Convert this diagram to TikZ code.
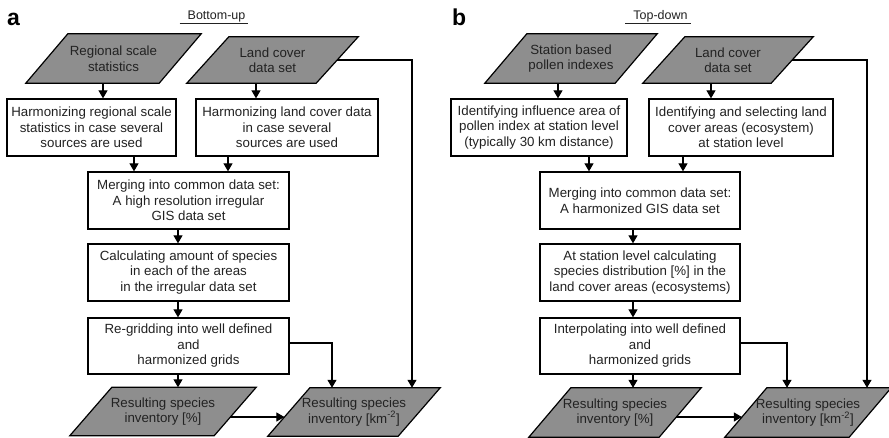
\documentclass[tikz,border=0pt]{standalone}
\usepackage{fontspec}
\setmainfont{Liberation Sans}
\usetikzlibrary{arrows.meta,backgrounds,calc}
\definecolor{pgray}{HTML}{8E8E8E}
\definecolor{txt}{HTML}{222222}
\tikzset{
  boxfont/.style={font=\fontsize{13.3}{15.5}\selectfont},
  box/.style={draw=black, line width=1.3pt, fill=white, align=center, inner sep=2pt, boxfont, text=txt, minimum height=57pt},
  ptext/.style={align=center, inner sep=0pt, boxfont, text=txt},
  pshape/.style={draw=black, line width=1.2pt, fill=pgray},
  arr/.style={line width=1.1pt, draw=black, -{Triangle[length=8pt,width=9pt]}},
  lab/.style={anchor=base west, inner sep=0pt, font=\fontsize{23}{23}\selectfont\bfseries},
  ttl/.style={anchor=base, inner sep=0pt, font=\fontsize{12.5}{14}\selectfont, text=txt},
}
\newcommand\pgram[6]{%
  \node[ptext, minimum width=#4pt, minimum height=#5pt] (#1) at (#2,#3) {#6};
  \begin{scope}[on background layer]
    \draw[pshape] ([xshift=21pt]#1.north west) -- ([xshift=21pt]#1.north east)
      -- ([xshift=-21pt]#1.south east) -- ([xshift=-21pt]#1.south west) -- cycle;
  \end{scope}}
\begin{document}
\begin{tikzpicture}[x=1pt,y=-1pt]
\begin{scope}[on background layer]
  \fill[white] (0,0) rectangle (889,437);
\end{scope}
\useasboundingbox (0,0) rectangle (889,437);

% ---------------- Panel a ----------------
\node[lab] (la) at (7,25) {a};
\node[ttl] (ta) at (214,19.5) {\underline{\hspace{8pt}Bottom-up\hspace{3pt}}};

\pgram{pa1}{113.5}{58.5}{133}{49}{Regional scale\\statistics}
\pgram{pa2}{272.5}{60}{129}{46}{Land cover\\data set}

\node[box, minimum width=169pt] (ba1) at (91.5,127.5) {Harmonizing regional scale\\statistics in case several\\sources are used};
\node[box, minimum width=182pt] (ba2) at (287,127.5) {Harmonizing land cover data\\in case several\\sources are used};
\node[box, minimum width=201pt] (ba3) at (188.5,200.5) {Merging into common data set:\\A high resolution irregular\\GIS data set};
\node[box, minimum width=201pt] (ba4) at (188.5,272.5) {Calculating amount of species\\in each of the areas\\in the irregular data set};
\node[box, minimum width=201pt, minimum height=56pt] (ba5) at (188.5,346) {Re-gridding into well defined\\and\\harmonized grids};

\pgram{pa3}{163}{411.5}{144}{48}{Resulting species\\inventory [\%]}
\pgram{pa4}{354}{412}{130}{48}{Resulting species\\inventory [km\textsuperscript{-2}]}

\path ([xshift=-10.5pt]pa1.south) coordinate (a1)
      ([xshift=-16.5pt]pa2.south) coordinate (a2)
      ([xshift=42.5pt]ba1.south) coordinate (a3)
      ([xshift=-59pt]ba2.south) coordinate (a4)
      ([xshift=-10.5pt]ba3.south) coordinate (a5)
      ([xshift=-10.5pt]ba4.south) coordinate (a6)
      ([xshift=-10.5pt]ba5.south) coordinate (a7);
\draw[arr] (a1) -- (a1 |- ba1.north);
\draw[arr] (a2) -- (a2 |- ba2.north);
\draw[arr] (a3) -- (a3 |- ba3.north);
\draw[arr] (a4) -- (a4 |- ba3.north);
\draw[arr] (a5) -- (a5 |- ba4.north);
\draw[arr] (a6) -- (a6 |- ba5.north);
\draw[arr] (a7) -- (a7 |- pa3.north);
\draw[arr] ([xshift=-4.8pt,yshift=-5.5pt]pa3.east) -- ([xshift=-4.4pt,yshift=-5pt]pa4.west);
\draw[arr] ([yshift=3pt]ba5.east) -| ([xshift=-22pt]pa4.north);
\draw[arr] (pa2.east) -| ([xshift=58pt]pa4.north);

% ---------------- Panel b ----------------
\node[lab] (lb) at (452,25) {b};
\node[ttl] (tb) at (658,19.5) {\underline{\hspace{8pt}Top-down\hspace{3pt}}};

\pgram{pb1}{571}{58.5}{130}{49}{Station based\\pollen indexes}
\pgram{pb2}{728}{60}{128}{46}{Land cover\\data set}

\node[box, minimum width=176pt] (bb1) at (539,127.5) {Identifying influence area of\\pollen index at station level\\(typically 30 km distance)};
\node[box, minimum width=184pt] (bb2) at (741,127.5) {Identifying and selecting land\\cover areas (ecosystem)\\at station level};
\node[box, minimum width=200pt] (bb3) at (640,200.5) {Merging into common data set:\\A harmonized GIS data set};
\node[box, minimum width=200pt] (bb4) at (640,272.5) {At station level calculating\\species distribution [\%] in the\\land cover areas (ecosystems)};
\node[box, minimum width=200pt, minimum height=56pt] (bb5) at (640,346) {Interpolating into well defined\\and\\harmonized grids};

\pgram{pb3}{615}{412.5}{130}{49}{Resulting species\\inventory [\%]}
\pgram{pb4}{808}{412.5}{124}{49}{Resulting species\\inventory [km\textsuperscript{-2}]}

\path ([xshift=-13pt]pb1.south) coordinate (b1)
      ([xshift=-17pt]pb2.south) coordinate (b2)
      ([xshift=50pt]bb1.south) coordinate (b3)
      ([xshift=-58pt]bb2.south) coordinate (b4)
      ([xshift=-7pt]bb3.south) coordinate (b5)
      ([xshift=-7pt]bb4.south) coordinate (b6)
      ([xshift=-7pt]bb5.south) coordinate (b7);
\draw[arr] (b1) -- (b1 |- bb1.north);
\draw[arr] (b2) -- (b2 |- bb2.north);
\draw[arr] (b3) -- (b3 |- bb3.north);
\draw[arr] (b4) -- (b4 |- bb3.north);
\draw[arr] (b5) -- (b5 |- bb4.north);
\draw[arr] (b6) -- (b6 |- bb5.north);
\draw[arr] (b7) -- (b7 |- pb3.north);
\draw[arr] ([xshift=-3.9pt,yshift=-4.5pt]pb3.east) -- ([xshift=-3.9pt,yshift=-4.5pt]pb4.west);
\draw[arr] ([yshift=3pt]bb5.east) -| ([xshift=-21pt]pb4.north);
\draw[arr] (pb2.east) -| ([xshift=59pt]pb4.north);
\end{tikzpicture}
\end{document}
